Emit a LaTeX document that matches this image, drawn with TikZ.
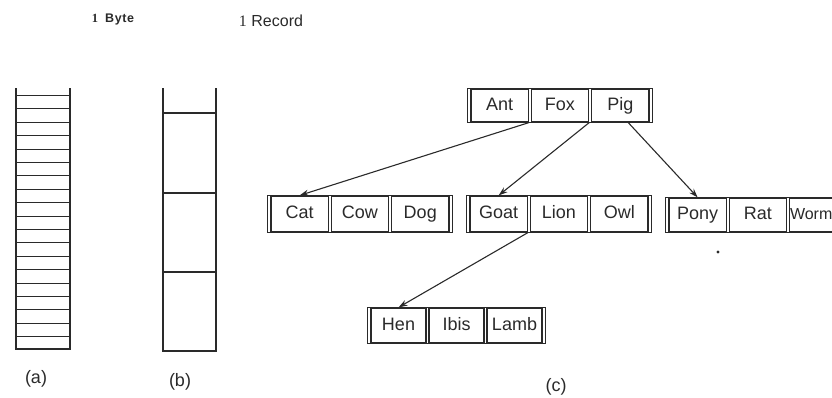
\documentclass[tikz,border=0pt]{standalone}
\usepackage{fontspec}
\setmainfont{Liberation Sans}
\newfontfamily\serifone{Liberation Serif}
\usetikzlibrary{arrows.meta,fit,calc}
\definecolor{ink}{HTML}{2A2A2A}
\tikzset{
  cell/.style={draw=ink, line width=1.2pt, minimum width=57.3pt, minimum height=#1, inner sep=0pt,
    text=ink, text height=12.5pt, text depth=3.5pt, font=\fontsize{18}{20}\selectfont},
  cell/.default=36pt,
  grp/.style={draw=ink, line width=1.2pt, inner xsep=3pt, inner ysep=0pt},
  ptr/.style={draw=ink, line width=1.1pt, -{Stealth[length=9pt,width=6pt]}},
  lab/.style={text=ink, font=\fontsize{18}{20}\selectfont},
  colline/.style={draw=ink, line width=1.3pt},
}
\begin{document}
\begin{tikzpicture}[x=1pt,y=-1pt]
\useasboundingbox (0,0) rectangle (832,397);
\clip (0,0) rectangle (832,397);

% titles
\node[text=ink, font=\fontsize{12.5}{14}\selectfont\bfseries] (tbyte) at (113,19) {{\serifone 1}\ \ B\kern0.6pt y\kern0.6pt t\kern0.6pt e};
\node[text=ink, font=\fontsize{16}{18}\selectfont] (trec) at (271,21) {{\serifone 1}\ Record};

% column (a)
\draw[colline] (16,88) -- (16,349) -- (70,349) -- (70,88);
\foreach \i in {0,...,18} {
  \draw[ink, line width=1.1pt] (16,95.5+\i*13.4) -- (70,95.5+\i*13.4);
}
\node[lab] (la) at (36,379) {(a)};

% column (b)
\draw[colline] (163,88) -- (163,351) -- (216,351) -- (216,88);
\foreach \yy in {113,193,272} {
  \draw[ink, line width=1.2pt] (163,\yy) -- (216,\yy);
}
\node[lab] (lb) at (180,382) {(b)};

% (c) tree
% root
\node[cell=33pt] (ant) at (499.65,105.5) {Ant};
\node[cell=33pt] (fox) at (559.95,105.5) {Fox};
\node[cell=33pt] (pig) at (620.25,105.5) {Pig};
\node[grp, fit=(ant)(pig)] (root) {};

% second level
\node[cell] (cat) at (299.65,214) {Cat};
\node[cell] (cow) at (359.95,214) {Cow};
\node[cell] (dog) at (420.25,214) {Dog};
\node[grp, fit=(cat)(dog)] (g1) {};

\node[cell] (goat) at (498.65,214) {Goat};
\node[cell] (lion) at (558.95,214) {Lion};
\node[cell] (owl) at (619.25,214) {Owl};
\node[grp, fit=(goat)(owl)] (g2) {};

\node[cell=34pt] (pony) at (697.65,215) {Pony};
\node[cell=34pt] (rat) at (757.95,215) {Rat};
\node[cell=34pt] (worm) at (818.25,215) {};
\node[text=ink, inner sep=0pt, anchor=west, text height=12.5pt, text depth=3.5pt,
  font=\fontsize{16}{20}\selectfont] (wormt) at ($(worm.west)+(0.8,0)$) {Worm};
\node[grp, fit=(pony)(worm)] (g3) {};

% third level
\node[cell=35pt, minimum width=55pt] (hen) at (398.5,325.5) {Hen};
\node[cell=35pt, minimum width=55pt] (ibis) at (456.5,325.5) {Ibis};
\node[cell=35pt, minimum width=55pt] (lamb) at (514.5,325.5) {Lamb};
\node[grp, fit=(hen)(lamb)] (g4) {};

% pointers
\draw[ptr] (ant.south east) -- (cat.north);
\draw[ptr] (fox.south east) -- (goat.north);
\coordinate (pigp) at ($(pig.south)+(8,0)$);
\draw[ptr] (pigp) -- (pony.north);
\draw[ptr] (goat.south east) -- (hen.north);

\fill[ink] (718,252) circle (1.6);

\node[lab] (lc) at (556,387) {(c)};
\end{tikzpicture}
\end{document}
